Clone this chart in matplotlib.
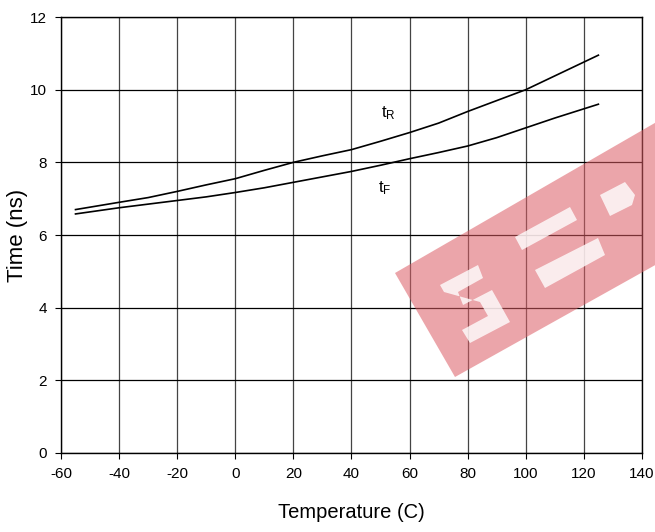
import matplotlib
matplotlib.use("Agg")
import matplotlib.pyplot as plt
from matplotlib.patches import Polygon

plt.rcParams['font.family'] = ['Liberation Sans', 'DejaVu Sans']
plt.rcParams['axes.unicode_minus'] = False

temp = [-55, -40, -30, -20, -10, 0, 10, 20, 30, 40, 50, 60, 70, 80, 90, 100, 110, 125]
t_rise = [6.70, 6.90, 7.03, 7.20, 7.38, 7.55, 7.78, 8.00, 8.18, 8.35, 8.58, 8.82, 9.08, 9.40, 9.70, 10.00, 10.38, 10.95]
t_fall = [6.58, 6.75, 6.85, 6.95, 7.05, 7.17, 7.30, 7.45, 7.60, 7.75, 7.92, 8.10, 8.27, 8.45, 8.68, 8.95, 9.22, 9.60]

xticks = list(range(-60, 141, 20))
yticks = list(range(0, 13, 2))

fig = plt.figure(figsize=(6.55, 5.32), dpi=100)
ax = fig.add_axes([0.0931, 0.1485, 0.887, 0.8195])

ax.plot(temp, t_rise, color='black', lw=1.2)
ax.plot(temp, t_fall, color='black', lw=1.2)

ax.set_xlim(-60, 140)
ax.set_ylim(0, 12)
ax.set_xticks(xticks)
ax.set_yticks(yticks)
ax.tick_params(direction='out', length=4, labelsize=11, pad=6)
ax.grid(True, axis='y', color='black', lw=0.9)
ax.grid(True, axis='x', color='#444444', lw=0.9)
for s in ax.spines.values():
    s.set_linewidth(1.0)

ax.text(52.6, 9.35, r'$\mathregular{t_R}$', fontsize=12, ha='center', va='center')
ax.text(51.5, 7.3, r'$\mathregular{t_F}$', fontsize=12, ha='center', va='center')

ax.set_xlabel('Temperature (C)', fontsize=14.5, labelpad=16)
ax.set_ylabel('Time (ns)', fontsize=16)
ax.yaxis.set_label_coords(-0.057, 0.5)

# watermark, semi-transparent band across the lower right
W, H = 655, 532
band = [(395, 273), (660, 120), (700, 240), (455, 377)]
fig.patches.append(Polygon([(x / W, 1 - y / H) for x, y in band], closed=True,
                           transform=fig.transFigure, facecolor='#dc5c64',
                           alpha=0.55, edgecolor='none', zorder=5))
holes = [
    [(440, 285), (478, 265), (483, 278), (458, 292), (463, 305), (492, 290), (510, 322), (470, 343), (462, 330), (488, 316), (480, 302), (444, 292)],
    [(515, 237), (570, 207), (577, 220), (522, 250)],
    [(535, 270), (598, 238), (605, 255), (545, 288)],
    [(600, 195), (625, 182), (635, 195), (632, 205), (610, 216)],
]
for h in holes:
    fig.patches.append(Polygon([(x / W, 1 - y / H) for x, y in h], closed=True,
                               transform=fig.transFigure, facecolor='white',
                               alpha=0.8, edgecolor='none', zorder=6))

fig.savefig('out.png', dpi=100)
